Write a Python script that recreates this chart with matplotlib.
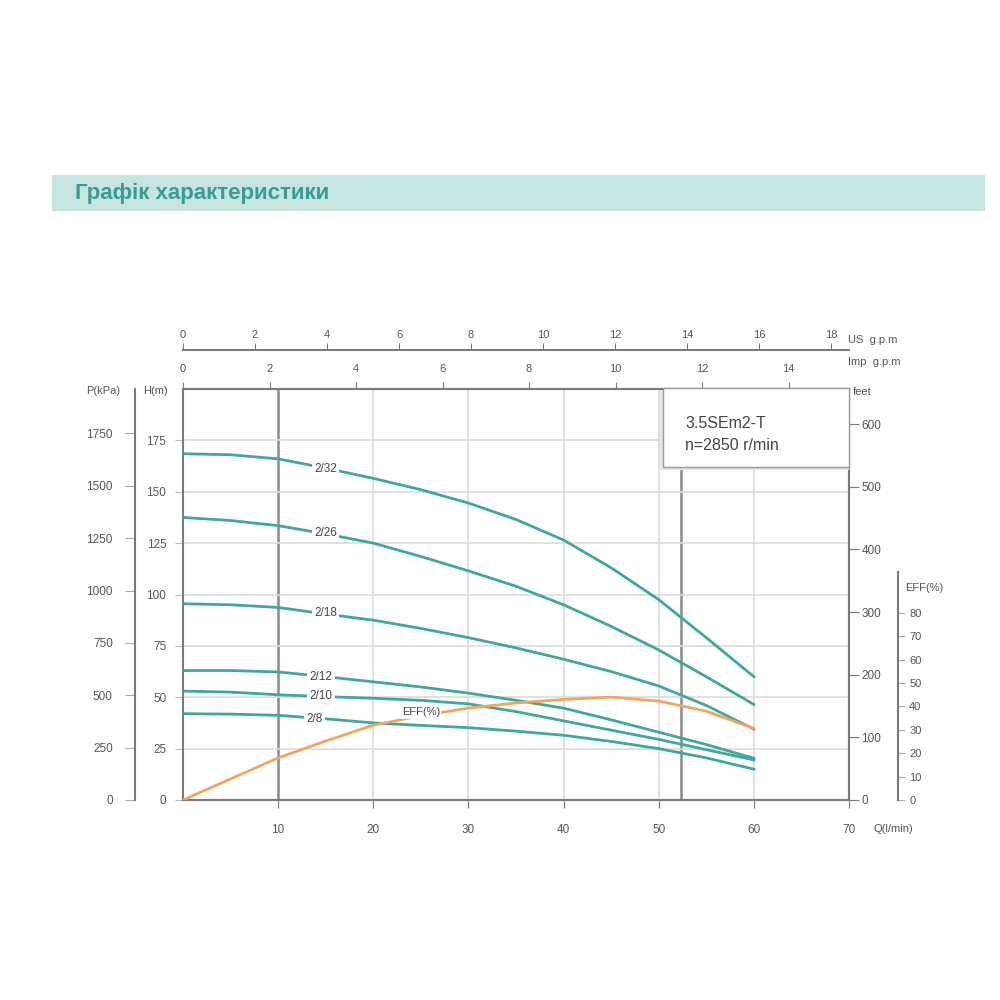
import matplotlib
matplotlib.use("Agg")
import matplotlib.pyplot as plt
from matplotlib.patches import Rectangle
from matplotlib.transforms import blended_transform_factory

plt.rcParams['font.family'] = ['Liberation Sans', 'DejaVu Sans']

# flow (l/min) and head (m)
q = [0, 5, 10, 15, 20, 25, 30, 35, 40, 45, 50, 55, 60]
h_2_32 = [168.5, 168, 166, 161.5, 156.5, 151, 144.5, 136.5, 126.5, 113, 97.5, 79, 60]
h_2_26 = [137.5, 136, 133.5, 129.5, 125, 118.5, 111.5, 104, 95, 84.5, 73, 60, 46.5]
h_2_18 = [95.5, 95, 93.7, 90.5, 87.5, 83.5, 79, 74, 68.5, 62.5, 55.5, 46, 34.5]
h_2_12 = [63, 63, 62.3, 60, 57.5, 55, 52, 48.5, 44.7, 39, 33, 27, 20.3]
h_2_10 = [53, 52.5, 51.2, 50.3, 49.5, 48.5, 46.8, 43, 38.5, 34, 29.5, 24.5, 19.5]
h_2_8 = [42, 41.8, 41.2, 39.5, 37.5, 36.3, 35.2, 33.5, 31.5, 28.5, 25, 20.5, 15]
eff = [0, 9, 18, 25.2, 32, 36, 39.3, 41.5, 43, 44, 42.3, 38, 30.6]

curves = [h_2_32, h_2_26, h_2_18, h_2_12, h_2_10, h_2_8]
names = ['2/32', '2/26', '2/18', '2/12', '2/10', '2/8']
label_pos = [(15, 161), (15, 130), (15, 91), (14.5, 60), (14.5, 50.5), (13.8, 39.5)]

q_ticks = [10, 20, 30, 40, 50, 60, 70]
h_ticks = [0, 25, 50, 75, 100, 125, 150, 175]
p_ticks = [0, 250, 500, 750, 1000, 1250, 1500, 1750]
ft_ticks = [0, 100, 200, 300, 400, 500, 600]
us_ticks = [0, 2, 4, 6, 8, 10, 12, 14, 16, 18]
imp_ticks = [0, 2, 4, 6, 8, 10, 12, 14]
eff_ticks = [0, 10, 20, 30, 40, 50, 60, 70, 80]

teal = '#3ea89b'
orange = '#f2a561'
grey = '#7a7a7a'
txt = '#555555'

fig = plt.figure(figsize=(10, 10), dpi=100)

# header band
fig.patches.append(Rectangle((0.052, 1 - 0.211), 0.933, 0.036, transform=fig.transFigure,
                             facecolor='#c6e5e1', edgecolor='none'))
fig.text(0.075, 1 - 0.193, 'Графік характеристики', fontsize=16, fontweight='bold',
         color='#3a9c92', va='center', ha='left',
         family=['Liberation Sans Narrow', 'Liberation Sans', 'DejaVu Sans'])

ax = fig.add_axes([0.183, 0.200, 0.666, 0.411])
ax.set_xlim(0, 70)
ax.set_ylim(0, 200)

for v in [20, 30, 40, 50, 60]:
    ax.axvline(v, color='#dcdcdc', lw=1.2, zorder=0)
for v in [10, 52.3]:
    ax.axvline(v, color='#8a8a8a', lw=1.8, zorder=0)
for v in h_ticks[1:]:
    ax.axhline(v, color='#dcdcdc', lw=1.2, zorder=0)

for hv, name, (lx, ly) in zip(curves, names, label_pos):
    ax.plot(q, hv, color=teal, lw=2, zorder=3, solid_joinstyle='round')
    ax.text(lx, ly, name, fontsize=8.5, color='#444444', ha='center', va='center', zorder=4,
            bbox=dict(facecolor='white', edgecolor='none', pad=1.5))

for s in ax.spines.values():
    s.set_color(grey)
    s.set_linewidth(1.5)

ax.set_xticks(q_ticks)
ax.tick_params(axis='x', direction='out', length=6, pad=11, colors=grey, labelcolor=txt, labelsize=8.5)
ax.set_yticks(h_ticks)
ax.tick_params(axis='y', direction='out', length=6, pad=6, colors='#bbbbbb', labelcolor=txt, labelsize=8.5)

# top axes: imperial and US gallons per minute
imp = ax.secondary_xaxis('top', functions=(lambda x: x / 4.546, lambda x: x * 4.546))
imp.set_xticks(imp_ticks)
imp.tick_params(direction='out', length=5, pad=6, colors=grey, labelcolor=txt, labelsize=8)
imp.spines['top'].set_color(grey)
imp.spines['top'].set_linewidth(1.5)

us = ax.secondary_xaxis(1.095, functions=(lambda x: x / 3.785, lambda x: x * 3.785))
us.set_xticks(us_ticks)
us.tick_params(direction='out', length=5, pad=2, colors=grey, labelcolor=txt, labelsize=8)
us.spines['top'].set_color(grey)
us.spines['top'].set_linewidth(1.5)

# right: feet
ft = ax.secondary_yaxis('right', functions=(lambda x: x * 3.2808, lambda x: x / 3.2808))
ft.set_yticks(ft_ticks)
ft.tick_params(direction='out', length=7, pad=2, colors=grey, labelcolor=txt, labelsize=8.5)
ft.spines['right'].set_color(grey)
ft.spines['right'].set_linewidth(1.5)

# left: pressure
p = ax.secondary_yaxis(-0.072, functions=(lambda x: x * 9.81, lambda x: x / 9.81))
p.set_yticks(p_ticks)
p.tick_params(direction='out', length=7, pad=9, colors='#aaaaaa', labelcolor=txt, labelsize=8.5)
p.spines['left'].set_color(grey)
p.spines['left'].set_linewidth(1.5)

# efficiency axis
eax = fig.add_axes([0.898, 0.200, 0.0001, 0.228])
eax.set_ylim(0, 97.5)
eax.set_xticks([])
for k in ['top', 'bottom', 'right']:
    eax.spines[k].set_visible(False)
eax.spines['left'].set_color(grey)
eax.spines['left'].set_linewidth(1.5)
eax.yaxis.tick_right()
eax.set_yticks(eff_ticks)
eax.tick_params(axis='y', direction='out', length=5, pad=3, colors='#aaaaaa', labelcolor=txt, labelsize=8)

tr = blended_transform_factory(ax.transData, eax.transData)
ax.plot(q, eff, color=orange, lw=2, zorder=3, transform=tr, solid_joinstyle='round')
ax.text(25, 37.5, 'EFF(%)', transform=tr, fontsize=8, color='#444444', ha='center', va='center',
        zorder=4, bbox=dict(facecolor='white', edgecolor='none', pad=1))

# model box
fig.patches.append(Rectangle((0.660, 1 - 0.470), 0.189, 0.080, transform=fig.transFigure,
                             facecolor='#e6e6e6', edgecolor='none', zorder=5))
fig.patches.append(Rectangle((0.663, 1 - 0.467), 0.186, 0.079, transform=fig.transFigure,
                             facecolor='white', edgecolor='#9a9a9a', lw=1, zorder=6))
fig.text(0.685, 1 - 0.423, '3.5SEm2-T', fontsize=11.5, color='#444444', va='center', zorder=7)
fig.text(0.685, 1 - 0.445, 'n=2850 r/min', fontsize=11.5, color='#444444', va='center', zorder=7)

# axis names
fig.text(0.103, 1 - 0.391, 'P(kPa)', fontsize=8, color=txt, ha='center', va='center')
fig.text(0.155, 1 - 0.391, 'H(m)', fontsize=8, color=txt, ha='center', va='center')
fig.text(0.853, 1 - 0.392, 'feet', fontsize=8, color=txt, ha='left', va='center')
fig.text(0.848, 1 - 0.340, 'US  g.p.m', fontsize=8, color=txt, ha='left', va='center')
fig.text(0.848, 1 - 0.362, 'Imp  g.p.m', fontsize=8, color=txt, ha='left', va='center')
fig.text(0.905, 1 - 0.588, 'EFF(%)', fontsize=8, color=txt, ha='left', va='center')
fig.text(0.873, 1 - 0.829, 'Q(l/min)', fontsize=8, color=txt, ha='left', va='center')

fig.savefig('out.png', dpi=100, facecolor='white')
